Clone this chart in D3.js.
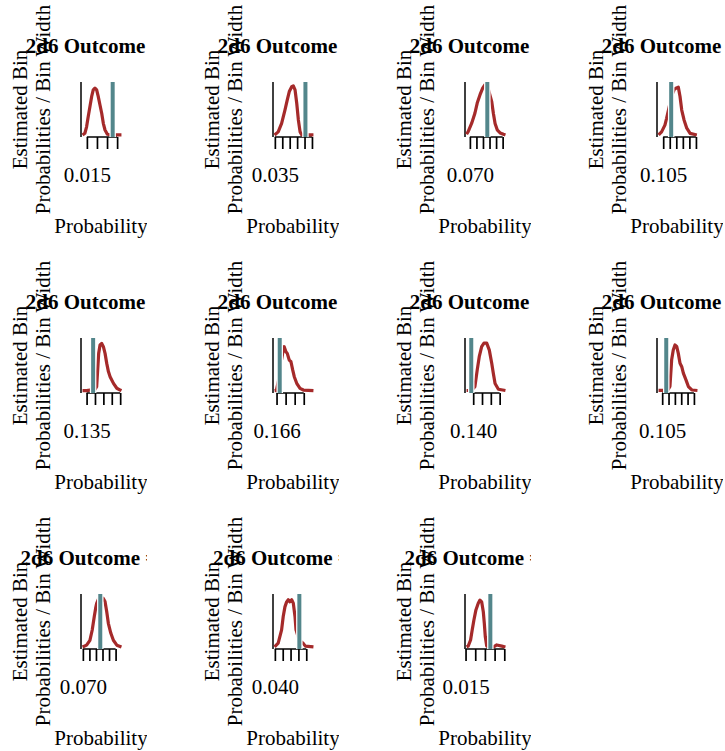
<!DOCTYPE html>
<html>
<head>
<meta charset="utf-8">
<script src="https://cdn.jsdelivr.net/npm/d3@7"></script>
<style>
  body { margin: 0; background: #fff; }
  svg { display: block; }
</style>
</head>
<body>
<div id="chart"></div>
<script>
// one panel per 2d6 outcome
const outcomes = [2, 3, 4, 5, 6, 7, 8, 9, 10, 11, 12];

// vertical reference line (probability) per panel
const refProbs = [0.0278, 0.0556, 0.0833, 0.1111, 0.1389, 0.1667, 0.1389, 0.1082, 0.0833, 0.0556, 0.0278];

// x limits of the density curve per panel
const xLimits = [
  [0.01285, 0.03215], [0.0348, 0.0610], [0.06746, 0.09715], [0.10146, 0.13115],
  [0.1326, 0.15576], [0.16556, 0.17414], [0.13623, 0.15829], [0.10214, 0.13278],
  [0.06977, 0.09946], [0.0398, 0.06458], [0.01552, 0.03560]
];

// upper y limit per panel
const yTops = [206, 115, 75, 98, 168, 390, 116, 103, 84, 122, 176];

// tick values per panel (only the first label survives at this size)
const xTicks = [
  [0.015, 0.020, 0.025, 0.030],
  [0.035, 0.040, 0.045, 0.050, 0.055, 0.060],
  [0.070, 0.075, 0.080, 0.085, 0.090, 0.095],
  [0.105, 0.110, 0.115, 0.120, 0.125, 0.130],
  [0.135, 0.140, 0.145, 0.150, 0.155],
  [0.166, 0.168, 0.170, 0.172],
  [0.140, 0.145, 0.150, 0.155],
  [0.105, 0.110, 0.115, 0.120, 0.125, 0.130],
  [0.070, 0.075, 0.080, 0.085, 0.090, 0.095],
  [0.040, 0.045, 0.050, 0.055, 0.060],
  [0.015, 0.020, 0.025, 0.030, 0.035]
];

// estimated bin probability / bin width, x positions
const curveX = [
  [0.01285, 0.0140, 0.01485, 0.01565, 0.01650, 0.01735, 0.01815, 0.01900, 0.01985, 0.02065, 0.02150, 0.02235, 0.02315, 0.02400, 0.02515, 0.0270, 0.03215],
  [0.0348, 0.03725, 0.03956, 0.04180, 0.04337, 0.04473, 0.04636, 0.04744, 0.04860, 0.04976, 0.05084, 0.05200, 0.05315, 0.0610],
  [0.06746, 0.06869, 0.07131, 0.07384, 0.07561, 0.07769, 0.07977, 0.08154, 0.08385, 0.08669, 0.08792, 0.08923, 0.09100, 0.09308, 0.09562, 0.09715],
  [0.10146, 0.10377, 0.10631, 0.10761, 0.1094, 0.1117, 0.1136, 0.11477, 0.11654, 0.11785, 0.11915, 0.12092, 0.12300, 0.12554, 0.13069],
  [0.1326, 0.1350, 0.1400, 0.1410, 0.1416, 0.1422, 0.1430, 0.1440, 0.1450, 0.1460, 0.1470, 0.1480, 0.1490, 0.1510, 0.1530, 0.1550, 0.15576],
  [0.16556, 0.16596, 0.16640, 0.16685, 0.16729, 0.16747, 0.16769, 0.16807, 0.16836, 0.16880, 0.16918, 0.16956, 0.16991, 0.17045, 0.17118, 0.17192, 0.17414],
  [0.13623, 0.1390, 0.14097, 0.14229, 0.14343, 0.14480, 0.14611, 0.14766, 0.14914, 0.15051, 0.15143, 0.15240, 0.15429, 0.15829],
  [0.10214, 0.10579, 0.1095, 0.11111, 0.11246, 0.11373, 0.11508, 0.11643, 0.11770, 0.11905, 0.12040, 0.12167, 0.12381, 0.12563, 0.12833, 0.13278],
  [0.06977, 0.07285, 0.07538, 0.07715, 0.07869, 0.07977, 0.08054, 0.0823, 0.08385, 0.08562, 0.08692, 0.08823, 0.08946, 0.09131, 0.09331, 0.09592, 0.09946],
  [0.0398, 0.04211, 0.04429, 0.04532, 0.04641, 0.0475, 0.04853, 0.04962, 0.05071, 0.05174, 0.05283, 0.05347, 0.05540, 0.05797, 0.05944, 0.06458],
  [0.01552, 0.01635, 0.01760, 0.01843, 0.01932, 0.02036, 0.02156, 0.02244, 0.02332, 0.02416, 0.02468, 0.02520, 0.02593, 0.02764, 0.02972, 0.03113, 0.03373, 0.03560]
];

// estimated bin probability / bin width, heights
const curveY = [
  [0, 7, 33, 74, 114, 155, 182, 189, 182, 155, 121, 88, 47, 20, 3, 0, 0],
  [0, 7, 26, 56, 79, 98, 109, 111, 102, 71, 34, 7, 0, 0],
  [1, 5, 17, 32, 47, 59, 69, 74, 69, 49, 32, 17, 7, 3, 1, 0],
  [0, 6, 19, 32, 52, 77, 88, 90, 92, 74, 48, 29, 13, 3, 0],
  [1, 1, 5, 14, 69, 124, 152, 157, 146, 124, 91, 64, 47, 25, 9, 3, 1],
  [2, 4, 76, 191, 275, 314, 339, 301, 288, 237, 224, 161, 109, 59, 20, 7, 2],
  [1, 1, 10, 48, 78, 101, 109, 109, 93, 63, 40, 17, 4, 1],
  [1, 1, 2, 9, 63, 83, 93, 90, 76, 56, 49, 36, 22, 9, 2, 1],
  [0, 3, 11, 28, 50, 64, 72, 81, 82, 80, 75, 58, 39, 23, 11, 3, 0],
  [0, 9, 41, 73, 96, 108, 113, 108, 113, 105, 73, 41, 17, 9, 2, 0],
  [0, 3, 24, 59, 93, 128, 151, 162, 156, 122, 82, 35, 3, 0, 1, 7, 3, 0]
];

const W = 725, H = 751;
const panelW = 192, panelH = 256, nCols = 4;
const plot = {left: 81, right: 123, top: 82, bottom: 137};
const clipW = 147;
const fontSize = 21;
const fontFamily = "'Liberation Serif', 'Times New Roman', Times, serif";
const red = "#a52a2a", teal = "#53868b";

const svg = d3.select("#chart").append("svg")
  .attr("width", W)
  .attr("height", H)
  .style("font-family", fontFamily);

const defs = svg.append("defs");

outcomes.forEach(function(outcome, i) {
  const col = i % nCols, row = Math.floor(i / nCols);

  defs.append("clipPath").attr("id", "panel-clip-" + i)
    .append("rect")
    .attr("x", 0).attr("y", 0)
    .attr("width", clipW).attr("height", panelH);

  const g = svg.append("g")
    .attr("transform", "translate(" + (col * panelW) + "," + (row * panelH) + ")")
    .attr("clip-path", "url(#panel-clip-" + i + ")");

  /** scales, padded 4% like base graphics */
  const lim = xLimits[i];
  const xPad = 0.04 * (lim[1] - lim[0]);
  const x = d3.scaleLinear()
    .domain([lim[0] - xPad, lim[1] + xPad])
    .range([plot.left, plot.right]);

  const yTop = yTops[i];
  const y = d3.scaleLinear()
    .domain([-0.04 * yTop, 1.04 * yTop])
    .range([plot.bottom, plot.top]);

  const ticks = xTicks[i];

  // left frame line
  g.append("line")
    .attr("x1", plot.left).attr("x2", plot.left)
    .attr("y1", plot.top).attr("y2", plot.bottom)
    .attr("stroke", "#000").attr("stroke-width", 1.5);

  // x axis, label only the first tick
  const xAxis = d3.axisBottom(x)
    .tickValues(ticks)
    .tickSize(12)
    .tickSizeOuter(0)
    .tickPadding(18)
    .tickFormat(function(d, j) { return j === 0 ? d3.format(".3f")(d) : ""; });

  const ax = g.append("g")
    .attr("transform", "translate(0," + plot.bottom + ")")
    .call(xAxis)
    .attr("font-family", fontFamily)
    .attr("font-size", fontSize);
  ax.select(".domain").remove();
  ax.selectAll(".tick line").attr("stroke", "#000").attr("stroke-width", 1.7);
  ax.selectAll(".tick text").attr("fill", "#000");

  g.append("line")
    .attr("x1", x(ticks[0])).attr("x2", x(ticks[ticks.length - 1]))
    .attr("y1", plot.bottom).attr("y2", plot.bottom)
    .attr("stroke", "#000").attr("stroke-width", 1.5);

  // density curve
  const pts = curveX[i].map(function(v, j) { return [v, curveY[i][j]]; });
  g.append("path")
    .datum(pts)
    .attr("d", d3.line().x(function(d) { return x(d[0]); }).y(function(d) { return y(d[1]); }))
    .attr("fill", "none")
    .attr("stroke", red)
    .attr("stroke-width", 3.2)
    .attr("stroke-linejoin", "round");

  // reference line
  const rx = x(refProbs[i]);
  g.append("line")
    .attr("x1", rx).attr("x2", rx)
    .attr("y1", plot.top).attr("y2", plot.bottom)
    .attr("stroke", "#fff").attr("stroke-width", 6.5);
  g.append("line")
    .attr("x1", rx).attr("x2", rx)
    .attr("y1", plot.top).attr("y2", plot.bottom)
    .attr("stroke", teal).attr("stroke-width", 4);

  // title
  g.append("text")
    .attr("x", (plot.left + plot.right) / 2)
    .attr("y", 53)
    .attr("text-anchor", "middle")
    .attr("font-family", fontFamily)
    .attr("font-size", fontSize)
    .attr("font-weight", "bold")
    .text("2d6 Outcome = " + outcome);

  // y label, two lines
  const yMid = (plot.top + plot.bottom) / 2;
  [["Estimated Bin", 26.5], ["Probabilities / Bin Width", 49.5]].forEach(function(l) {
    g.append("text")
      .attr("transform", "translate(" + l[1] + "," + yMid + ") rotate(-90)")
      .attr("text-anchor", "middle")
      .attr("font-family", fontFamily)
      .attr("font-size", fontSize)
      .text(l[0]);
  });

  // x label
  g.append("text")
    .attr("x", (plot.left + plot.right) / 2 - 1)
    .attr("y", 233)
    .attr("text-anchor", "middle")
    .attr("font-family", fontFamily)
    .attr("font-size", fontSize)
    .text("Probability");
});
</script>
</body>
</html>
